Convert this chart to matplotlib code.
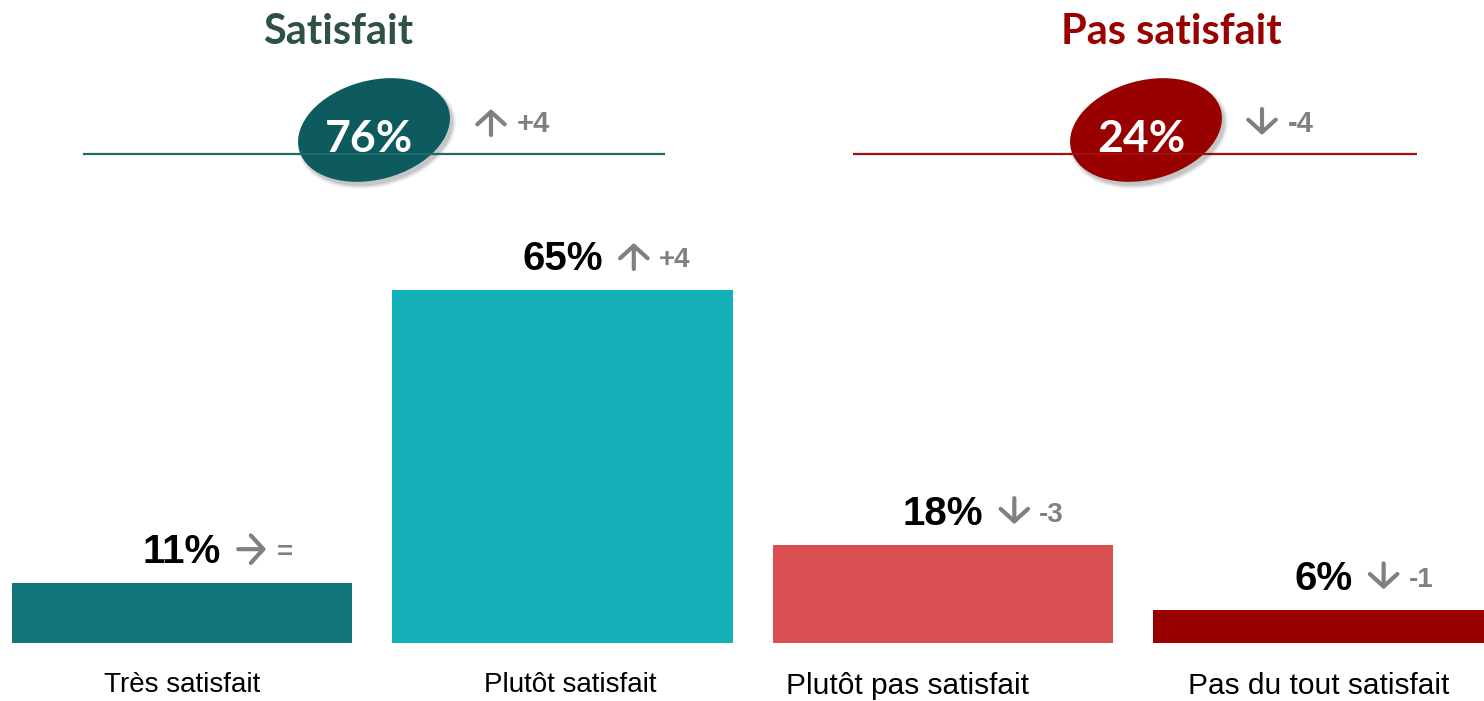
import matplotlib
matplotlib.use("Agg")
import matplotlib.pyplot as plt
from matplotlib.patches import Ellipse
from matplotlib.text import OffsetFrom

# ---------------- data ----------------
categories = ["Très satisfait", "Plutôt satisfait", "Plutôt pas satisfait", "Pas du tout satisfait"]
values = [11, 65, 18, 6]
delta_dirs = ["right", "up", "down", "down"]
delta_values = ["=", "+4", "-3", "-1"]

group_titles = ["Satisfait", "Pas satisfait"]
group_totals = [76, 24]
group_dirs = ["up", "down"]
group_deltas = ["+4", "-4"]

# ---------------- style ----------------
bar_colors = ["#11757A", "#14B0B8", "#D94F52", "#990000"]
group_colors = ["#2E5142", "#990000"]
ellipse_colors = ["#0D5B5F", "#990000"]
line_colors = ["#1F6B6B", "#A01010"]
gray = "#808080"
label_sizes = [20, 20, 21.5, 21.5]
label_dx = [0, 8, -35, -5]
ARROW = dict(arrowstyle="->,head_length=0.5,head_width=0.55", lw=3.0, color=gray,
             mutation_scale=18, shrinkA=0, shrinkB=0)
VEC = {"up": ((0, -13), (0, 13)), "down": ((0, 13), (0, -13)),
       "right": ((-14, 0), (14, 0))}

W, H = 1484, 701
fig = plt.figure(figsize=(W / 100, H / 100), dpi=100)

# bar axes
ax = fig.add_axes([0, 58 / H, 1, 643 / H])
ax.bar(range(len(values)), values, width=0.894, color=bar_colors)
ax.set_xlim(-182 / 380.5, (W - 182) / 380.5)
ax.set_ylim(0, 643 / 5.43)
ax.axis("off")

for i, v in enumerate(values):
    t = ax.text(i, v + 3.7, f"{v}%", ha="center", va="baseline", fontsize=29,
                fontweight="bold", family="Liberation Sans", color="black")
    ref = OffsetFrom(t, (1, 0.5), unit="pixels")
    (tx, ty), (hx, hy) = VEC[delta_dirs[i]]
    ax.annotate("", xy=(31 + hx, 3 + hy), xycoords=ref, xytext=(31 + tx, 3 + ty),
                textcoords=ref, arrowprops=ARROW)
    ax.annotate(delta_values[i], xy=(0, 0), xycoords=ref, xytext=(56, -1),
                textcoords=ref, ha="left", va="center",
                fontsize=20, fontweight="bold", color=gray, family="Liberation Sans")
    ax.annotate(categories[i], xy=(i, 0), xycoords="data", xytext=(label_dx[i], -29),
                textcoords="offset pixels", ha="center", va="top",
                fontsize=label_sizes[i], family="Liberation Sans", color="black",
                annotation_clip=False)

# header overlay in pixel coordinates
ov = fig.add_axes([0, 0, 1, 1])
ov.set_xlim(0, W)
ov.set_ylim(H, 0)
ov.axis("off")

title_x = [338, 1171]
ell_x = [374, 1146]
line_x = [(83, 665), (853, 1417)]
arrow_x = [491, 1262]

for g in range(2):
    ov.text(title_x[g], 44, group_titles[g], ha="center", va="baseline", fontsize=30,
            fontweight="bold", family="Lato", color=group_colors[g])
    ov.plot(line_x[g], [154, 154], color=line_colors[g], lw=1.6, solid_capstyle="butt")
    for k, al in enumerate([0.06, 0.08, 0.10]):
        ov.add_patch(Ellipse((ell_x[g] + 3, 134), 155 + 6 - 3 * k, 99 + 6 - 3 * k, angle=-15,
                             color="#000000", alpha=al, lw=0))
    ov.add_patch(Ellipse((ell_x[g], 130), 155, 99, angle=-15, color=ellipse_colors[g], lw=0))
    ov.text(ell_x[g] - 5, 152, f"{group_totals[g]}%", ha="center", va="baseline",
            fontsize=32, fontweight="bold", family="Lato", color="white")
    (tx, ty), (hx, hy) = VEC[group_dirs[g]]
    ov.annotate("", xy=(arrow_x[g] + hx, 122 - hy), xytext=(arrow_x[g] + tx, 122 - ty),
                arrowprops=ARROW)
    ov.text(arrow_x[g] + 26, 124, group_deltas[g], ha="left", va="center", fontsize=21,
            fontweight="bold", color=gray, family="Liberation Sans")

fig.savefig("out.png", dpi=100, facecolor="white")
